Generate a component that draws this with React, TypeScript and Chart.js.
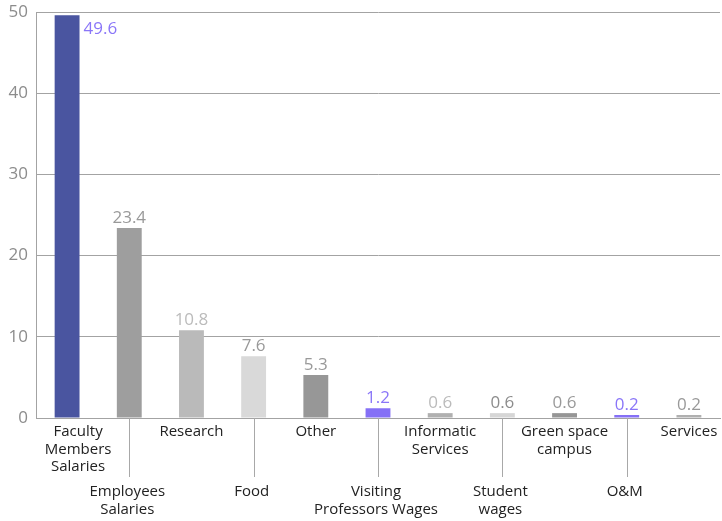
import React, { useEffect, useRef } from "react";
import { Chart, registerables } from "chart.js";

Chart.register(...registerables);

const categories: string[][] = [
  ["Faculty", "Members", "Salaries"],
  ["Employees", "Salaries"],
  ["Research"],
  ["Food"],
  ["Other"],
  ["Visiting", "Professors Wages"],
  ["Informatic", "Services"],
  ["Student", "wages"],
  ["Green space", "campus"],
  ["O&M"],
  ["Services"],
];
const values: number[] = [49.6, 23.4, 10.8, 7.6, 5.3, 1.2, 0.6, 0.6, 0.6, 0.2, 0.2];
const barColors: string[] = [
  "#4a55a0", "#9e9e9e", "#bababa", "#d9d9d9", "#979797", "#8570f6",
  "#b0b0b0", "#d6d6d6", "#969696", "#8570f6", "#b0b0b0",
];
const valueColors: string[] = [
  "#8a76f8", "#999999", "#bbbbbb", "#999999", "#999999", "#8a76f8",
  "#bbbbbb", "#8c8c8c", "#999999", "#8a76f8", "#999999",
];
const yTicks: number[] = [0, 10, 20, 30, 40, 50];

const FONT = "'Open Sans', 'Noto Sans', sans-serif";

const labelsPlugin = {
  id: "customLabels",
  afterDatasetsDraw(chart: any) {
    const ctx = chart.ctx;
    const xs = chart.scales.x;
    const ys = chart.scales.y;
    const meta = chart.getDatasetMeta(0);
    ctx.save();
    // value labels
    ctx.font = `17px ${FONT}`;
    meta.data.forEach((bar: any, i: number) => {
      ctx.fillStyle = valueColors[i];
      const txt = values[i].toFixed(1);
      if (i === 0) {
        ctx.textAlign = "left";
        ctx.textBaseline = "middle";
        ctx.fillText(txt, bar.x + bar.width / 2 + 4, bar.y + 14);
      } else {
        ctx.textAlign = "center";
        ctx.textBaseline = "middle";
        ctx.fillText(txt, bar.x, bar.y - 10);
      }
    });
    // category labels
    const zeroY = ys.getPixelForValue(0);
    categories.forEach((lines, i) => {
      let x = xs.getPixelForValue(i);
      if (i === 0) x += 11;
      const lower = i % 2 === 1;
      let startY = zeroY + 14;
      if (lower) {
        ctx.strokeStyle = "#a8a8a8";
        ctx.lineWidth = 1;
        ctx.beginPath();
        ctx.moveTo(Math.round(x) + 0.5, zeroY);
        ctx.lineTo(Math.round(x) + 0.5, zeroY + 59);
        ctx.stroke();
        startY = zeroY + 74;
        x -= 2;
      }
      ctx.fillStyle = "#222222";
      ctx.textAlign = "center";
      ctx.textBaseline = "middle";
      ctx.font = `15px ${FONT}`;
      lines.forEach((ln, j) => {
        ctx.fillText(ln, x, startY + j * 17.5);
      });
    });
    ctx.restore();
  },
};

export default function App() {
  const ref = useRef<HTMLCanvasElement>(null);
  useEffect(() => {
    if (!ref.current) return;
    const chart = new Chart(ref.current, {
      type: "bar",
      data: {
        labels: categories.map((c) => c.join(" ")),
        datasets: [
          {
            data: values,
            backgroundColor: barColors,
            barPercentage: 0.4,
            categoryPercentage: 1,
            minBarLength: 3,
          },
        ],
      },
      options: {
        animation: false,
        responsive: false,
        maintainAspectRatio: false,
        layout: { padding: { top: 12, right: 2, left: 0, bottom: 0 } },
        plugins: { legend: { display: false }, tooltip: { enabled: false } },
        scales: {
          x: {
            grid: { display: false, drawTicks: false },
            border: { display: true, color: "#a3a3a3", width: 1 },
            ticks: { display: false },
            afterFit: (s: any) => {
              s.height = 103;
            },
          },
          y: {
            min: 0,
            max: 50,
            afterBuildTicks: (s: any) => {
              s.ticks = yTicks.map((v) => ({ value: v }));
            },
            grid: { color: "#a3a3a3", drawTicks: false, lineWidth: 1 },
            border: { display: true, color: "#a3a3a3", width: 1 },
            ticks: {
              color: "#8c8c8c",
              padding: 8,
              font: { family: FONT, size: 17 },
            },
            afterFit: (s: any) => {
              s.width = 36;
              s.paddingTop = 0;
              s.paddingBottom = 0;
            },
          },
        },
      },
      plugins: [labelsPlugin],
    });
    return () => chart.destroy();
  }, []);
  return (
    <div style={{ position: "fixed", left: 0, top: 0, width: 722, height: 521, background: "#fff" }}>
      <canvas ref={ref} width={722} height={521} style={{ width: 722, height: 521 }} />
    </div>
  );
}
